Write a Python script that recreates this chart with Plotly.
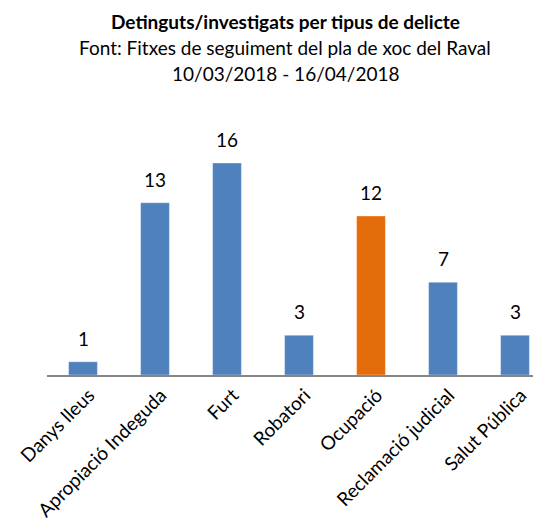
import plotly.graph_objects as go

categories = ["Danys lleus", "Apropiació Indeguda", "Furt", "Robatori", "Ocupació", "Reclamació judicial", "Salut Pública"]
values = [1, 13, 16, 3, 12, 7, 3]
colors = ["#4F81BD", "#4F81BD", "#4F81BD", "#4F81BD", "#E46C0A", "#4F81BD", "#4F81BD"]

font_family = "Lato, 'Open Sans', sans-serif"

# browser body margin offset (8px)
OFF = 8
W, H = 541, 527
ML, MT, MB = 47 - OFF, 100 - OFF, 152 + OFF

fig = go.Figure(go.Bar(
    x=categories, y=values, marker_color=colors, width=0.40,
    marker_line=dict(color="rgba(255,255,255,0.35)", width=1),
    cliponaxis=False,
))

annotations = []
for c, v in zip(categories, values):
    annotations.append(dict(x=c, y=v, xref="x", yref="y", text=str(v), showarrow=False,
                            yanchor="bottom", yshift=10,
                            font=dict(size=19, family=font_family, color="#000000")))

plot_w = W - ML
plot_h = H - MT - MB
titles = [
    ("<b>Detinguts/investigats per tipus de delicte</b>", 22),
    ("Font: Fitxes de seguiment del pla de xoc del Raval", 48),
    ("10/03/2018 - 16/04/2018", 73),
]
for txt, py in titles:
    annotations.append(dict(text=txt, x=(285 - OFF - ML) / plot_w, y=(H - MB - (py - OFF)) / plot_h,
                            xref="paper", yref="paper", xanchor="center", yanchor="middle",
                            showarrow=False, font=dict(size=19, family=font_family, color="#000000")))

fig.update_layout(
    width=W, height=H,
    margin=dict(l=ML, r=0, t=MT, b=MB),
    plot_bgcolor="white", paper_bgcolor="white",
    showlegend=False,
    font=dict(family=font_family, color="#000000"),
    xaxis=dict(
        range=[-0.5, -0.5 + plot_w / 72.0], tickangle=-45, showline=True, linecolor="#868686", linewidth=1.5,
        ticks="", tickfont=dict(size=19, family=font_family, color="#000000"), automargin=False,
        ticklabelshift=6,
    ),
    yaxis=dict(range=[0, plot_h / 13.25], visible=False, showgrid=False, zeroline=False),
    annotations=annotations,
)

fig.write_html("out.html")
